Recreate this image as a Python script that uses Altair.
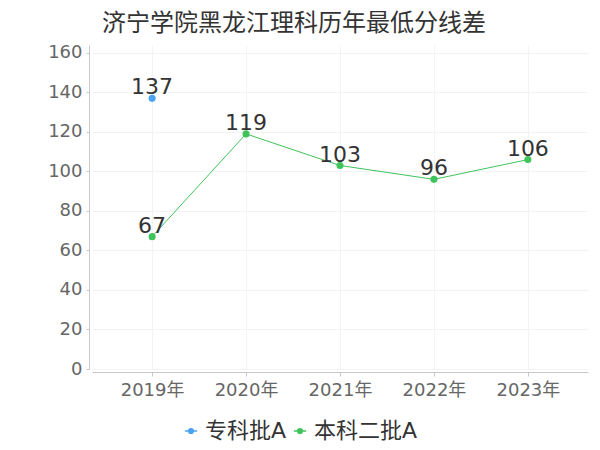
import altair as alt
import pandas as pd

years = ["2019年", "2020年", "2021年", "2022年", "2023年"]
series_names = ["专科批A", "本科二批A"]
zk_years = ["2019年"]
zk_values = [137]
bk_years = ["2019年", "2020年", "2021年", "2022年", "2023年"]
bk_values = [67, 119, 103, 96, 106]
colors = ["#4ba3f2", "#3fc35b"]

rows = []
for y, v in zip(zk_years, zk_values):
    rows.append({"year": y, "series": series_names[0], "value": v})
for y, v in zip(bk_years, bk_values):
    rows.append({"year": y, "series": series_names[1], "value": v})
df = pd.DataFrame(rows)

FONT = "DejaVu Sans, Noto Sans CJK SC"

x = alt.X("year:N", sort=years, title=None,
          scale=alt.Scale(type="point", domain=years, padding=0.64),
          axis=alt.Axis(labelAngle=0, labelFontSize=18, labelColor="#666666",
                        labelFont=FONT, domainColor="#c8c8c8", tickColor="#c8c8c8",
                        tickSize=4, labelPadding=5, grid=True, gridColor="#f3f3f3",
                        offset=3))
y = alt.Y("value:Q", title=None,
          scale=alt.Scale(domain=[0, 164], nice=False),
          axis=alt.Axis(values=[0, 20, 40, 60, 80, 100, 120, 140, 160],
                        labelFontSize=18, labelColor="#666666", labelFont=FONT,
                        domainColor="#c8c8c8", tickColor="#c8c8c8", tickSize=3,
                        labelPadding=4, grid=True, gridColor="#f3f3f3", offset=3))

legend = alt.Legend(title=None, orient="none", direction="horizontal",
                    legendX=88, legendY=375, labelFontSize=22, labelColor="#333333",
                    labelFont=FONT, columnPadding=2, labelOffset=3,
                    symbolType="M-1,0H1M-0.38,0A0.38,0.38,0,1,1,0.38,0A0.38,0.38,0,1,1,-0.38,0Z",
                    symbolSize=150, symbolStrokeWidth=1.5)
color = alt.Color("series:N", scale=alt.Scale(domain=series_names, range=colors),
                  legend=legend, sort=series_names)

base = alt.Chart(df)

line = base.mark_line(strokeWidth=1).encode(
    x=x, y=y, color=color, detail="series:N",
)

points = base.mark_circle(size=50, opacity=1).encode(
    x=x, y=y, color=color,
)

labels = base.mark_text(fontSize=22, color="#333333", font=FONT, dy=-4,
                        baseline="alphabetic").encode(
    x=x, y=y, text="value:Q",
)

chart = alt.layer(line, points, labels).properties(
    width=496, height=324,
    autosize=alt.AutoSizeParams(type="none"),
    padding={"left": 84, "top": 37, "right": 4, "bottom": 73},
    title=alt.TitleParams("济宁学院黑龙江理科历年最低分线差", fontSize=24,
                          color="#333333", font=FONT, fontWeight="normal",
                          anchor="middle", dx=-46, offset=8),
).configure_view(stroke=None)

chart.save("out.html", embed_options={"renderer": "svg", "actions": False})
